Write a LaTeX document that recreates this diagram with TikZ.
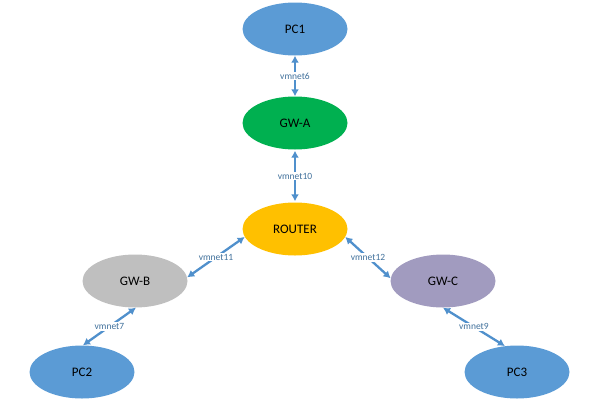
\documentclass[tikz,border=0pt]{standalone}
\usepackage{fontspec}
\setmainfont{Carlito}
\usetikzlibrary{shapes.geometric,arrows.meta}
\definecolor{pcblue}{HTML}{5B9BD5}
\definecolor{gwgreen}{HTML}{00B050}
\definecolor{routeryellow}{HTML}{FFC000}
\definecolor{gwgrey}{HTML}{BFBFBF}
\definecolor{gwpurple}{HTML}{A19BBF}
\definecolor{linkblue}{HTML}{5090CC}
\definecolor{labblue}{HTML}{41719C}
\tikzset{
  dev/.style={ellipse, minimum width=105pt, minimum height=53pt, inner sep=0pt,
    font=\fontsize{13}{15}\selectfont, text=black},
  link/.style={draw=linkblue, line width=2.3pt,
    {Latex[length=7pt,width=8pt]}-{Latex[length=7pt,width=8pt]}},
  lab/.style={fill=white, inner sep=1pt, text=labblue, font=\fontsize{9.5}{11}\selectfont}
}
\begin{document}
\begin{tikzpicture}[x=1pt,y=-1pt]
\useasboundingbox (0,0) rectangle (600,400);
\node[dev, fill=pcblue] (pc1) at (295,29) {PC1};
\node[dev, fill=gwgreen] (gwa) at (295,123) {GW-A};
\node[dev, fill=routeryellow] (router) at (295,229) {ROUTER};
\node[dev, fill=gwgrey] (gwb) at (135,281) {GW-B};
\node[dev, fill=gwpurple] (gwc) at (443,281) {GW-C};
\node[dev, fill=pcblue] (pc2) at (82,372) {PC2};
\node[dev, fill=pcblue] (pc3) at (517,372) {PC3};
\draw[link] (pc1.south) -- node[lab] (l6) {vmnet6} (gwa.north);
\draw[link, shorten <=1pt, shorten >=1pt] (gwa.south) -- node[lab] (l10) {vmnet10} (router.north);
\draw[link] (router.189) -- node[lab] (l11) {vmnet11} (gwb.4);
\draw[link] (gwb.272) -- node[lab] (l7) {vmnet7} (pc2.88);
\draw[link] (router.351) -- node[lab] (l12) {vmnet12} (gwc.177);
\draw[link] (gwc.270) -- node[lab] (l9) {vmnet9} (pc3.115);
\end{tikzpicture}
\end{document}
